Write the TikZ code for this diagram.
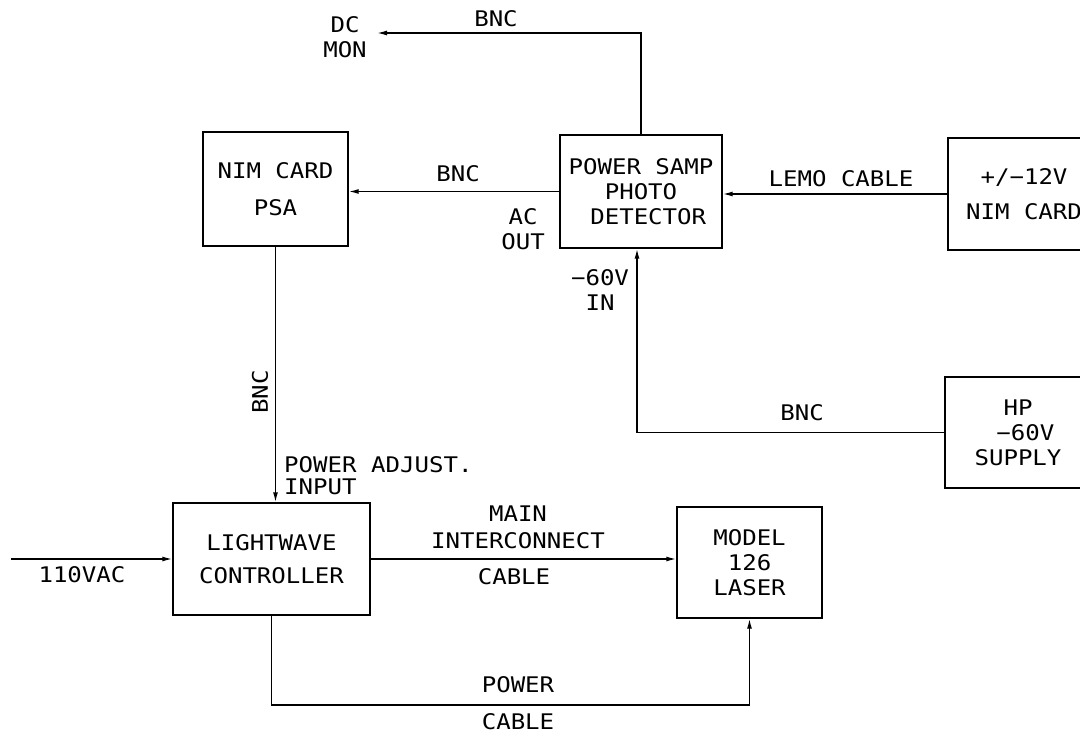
\documentclass[tikz,border=0pt]{standalone}
\usepackage{fontspec}
\usetikzlibrary{arrows.meta}
\newfontfamily\draftfont[FakeStretch=1.12]{DejaVu Sans Mono}
\tikzset{
  every node/.style={font=\draftfont\fontsize{21.5}{25}\selectfont, inner sep=0pt},
  blk/.style={draw, line width=1.4pt, align=center},
  lbl/.style={align=center},
  wire/.style={line width=1.4pt},
  arr/.style={wire, -{Latex[length=10pt,width=5pt]}}
}
\begin{document}
\begin{tikzpicture}[x=1pt,y=-1pt]
\clip (0,0) rectangle (1080,736);
\useasboundingbox (0,0) rectangle (1080,736);
% boxes
\node[blk, minimum width=145pt, minimum height=114pt] (psa) at (275.5,189) {NIM CARD\\[12pt]PSA};
\node[blk, minimum width=162pt, minimum height=113pt] (psd) at (641,191.5) {POWER SAMP\\PHOTO\\\ DETECTOR};
\node[blk, minimum width=152pt, minimum height=112pt] (nim) at (1024,194) {+/−12V\\[10pt]NIM CARD};
\node[blk, minimum width=146pt, minimum height=111pt] (hp) at (1018,432.5) {HP\\\ −60V\\SUPPLY};
\node[blk, minimum width=197pt, minimum height=112pt] (lw) at (271.5,559) {LIGHTWAVE\\[8pt]CONTROLLER};
\node[blk, minimum width=145pt, minimum height=111pt] (laser) at (749.5,562.5) {MODEL\\126\\LASER};
% labels
\node[lbl] (dcmon) at (345,37) {DC\\MON};
\node[lbl] (bnctop) at (496,19) {BNC};
\node[lbl] (bncpsa) at (458,174) {BNC};
\node[lbl] (acout) at (523,229) {AC\\OUT};
\node[lbl] (lemo) at (841,179) {LEMO CABLE};
\node[lbl] (m60in) at (600,290.5) {−60V\\IN};
\node[lbl] (bnchp) at (802,413) {BNC};
\node[lbl, rotate=90] (bncv) at (260,392) {BNC};
\node[align=left, anchor=west] (pai) at (284,476) {POWER ADJUST.\\[-3pt]INPUT};
\node[lbl] (mainic) at (518,527) {MAIN\\[2pt]INTERCONNECT};
\node[lbl] (cable1) at (514,577) {CABLE};
\node[lbl] (power) at (518,685) {POWER};
\node[lbl] (cable2) at (518,722) {CABLE};
\node[lbl] (vac) at (82,575) {110VAC};
% helper coordinates
\coordinate (dctip) at (377,33);
\coordinate (in110) at (11,559);
\coordinate (pcy) at (0,705);
% connectors
\draw[arr] (psd.north) |- (dctip);
\draw[arr] (psd.west) -- (psd.west -| psa.east);
\draw[arr] (nim.west) -- (nim.west -| psd.east);
\draw[arr] (hp.west) -| ([xshift=-4pt]psd.south);
\draw[arr] (psa.south) -- (psa.south |- lw.north);
\draw[arr] (in110) -- (lw.west);
\draw[arr] (lw.east) -- (lw.east -| laser.west);
\draw[arr] (lw.south) -- (lw.south |- pcy) -| (laser.south);
\end{tikzpicture}
\end{document}
